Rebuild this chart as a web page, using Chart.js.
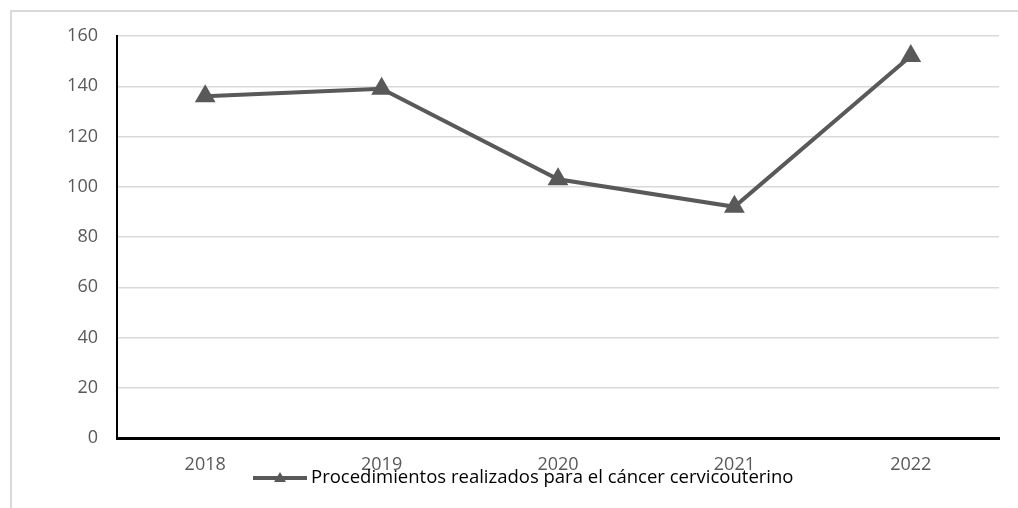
<!DOCTYPE html>
<html>
<head>
<meta charset="utf-8">
<script src="https://cdn.jsdelivr.net/npm/chart.js@4"></script>
<style>
  html, body { margin: 0; padding: 0; background: #fff; overflow: hidden; }
  .wrap { position: relative; width: 1018px; height: 508px; }
  .frame {
    position: absolute; left: 10px; top: 10px; width: 1100px; height: 600px;
    border-left: 2px solid #d9d9d9; border-top: 2px solid #d9d9d9;
  }
  canvas { position: absolute; left: 0; top: 0; }
</style>
</head>
<body>
<div class="wrap">
  <div class="frame"></div>
  <canvas id="chart" width="1018" height="508"></canvas>
</div>
<script>
// Procedimientos por año
const years = ['2018', '2019', '2020', '2021', '2022'];
const procedimientos = [136, 139, 103, 92, 152];
const yTicks = [0, 20, 40, 60, 80, 100, 120, 140, 160];
const serieLabel = 'Procedimientos realizados para el cáncer cervicouterino';

const FONT = '"Open Sans", "Liberation Sans", sans-serif';
const GRAY = '#595959';

// leyenda dibujada a mano bajo el eje (se solapa con las etiquetas, como en el original)
const legendPlugin = {
  id: 'bottomLegend',
  afterDraw(chart) {
    const ctx = chart.ctx;
    const y = 478;
    ctx.save();
    ctx.strokeStyle = GRAY;
    ctx.lineWidth = 4;
    ctx.beginPath();
    ctx.moveTo(253, y);
    ctx.lineTo(307, y);
    ctx.stroke();
    ctx.fillStyle = GRAY;
    ctx.beginPath();
    ctx.moveTo(280, y - 6);
    ctx.lineTo(286, y + 4);
    ctx.lineTo(274, y + 4);
    ctx.closePath();
    ctx.fill();
    ctx.fillStyle = '#000';
    ctx.font = '18.5px ' + FONT;
    ctx.textBaseline = 'middle';
    ctx.fillText(serieLabel, 311, y);
    ctx.restore();
  }
};

new Chart(document.getElementById('chart'), {
  type: 'line',
  data: {
    labels: years,
    datasets: [{
      label: serieLabel,
      data: procedimientos,
      borderColor: GRAY,
      backgroundColor: GRAY,
      borderWidth: 4,
      pointStyle: 'triangle',
      pointRadius: 12,
      pointHoverRadius: 12,
      pointBorderWidth: 0,
      tension: 0,
    }],
  },
  options: {
    responsive: false,
    animation: false,
    layout: { padding: { top: 36, right: 19, bottom: 0, left: 0 } },
    plugins: {
      legend: { display: false },
      tooltip: { enabled: false },
    },
    scales: {
      x: {
        offset: true,
        grid: { display: false, drawTicks: false },
        border: { color: '#000', width: 3 },
        ticks: { color: GRAY, font: { family: FONT, size: 18 }, padding: 16, maxRotation: 0 },
        afterFit: s => { s.height = 70; },
      },
      y: {
        min: 0,
        max: 160,
        afterBuildTicks: s => { s.ticks = yTicks.map(v => ({ value: v })); },
        grid: { color: '#d9d9d9', lineWidth: 1.5, drawTicks: false },
        border: { color: '#000', width: 2 },
        ticks: { color: GRAY, font: { family: FONT, size: 18 }, padding: 19 },
        afterFit: s => { s.width = 117; },
      },
    },
  },
  plugins: [legendPlugin],
});
</script>
</body>
</html>
